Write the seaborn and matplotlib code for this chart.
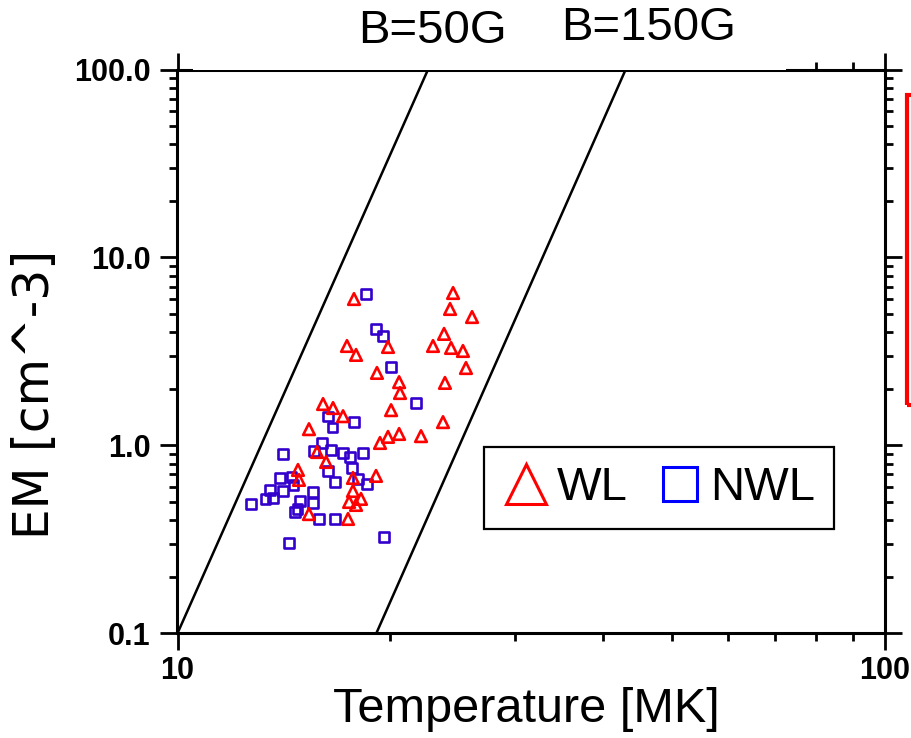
import matplotlib
matplotlib.use("Agg")
import matplotlib.pyplot as plt
import seaborn as sns
from matplotlib.lines import Line2D
from matplotlib.patches import Rectangle
from matplotlib.ticker import FixedLocator, LogLocator, NullFormatter

# ---------------- data ----------------
series_names = ["WL", "NWL"]

wl_T = [17.76, 17.36, 17.88, 16.06, 16.59, 17.14, 24.52, 24.28, 26.08, 23.81,
        22.97, 24.36, 25.32, 19.84, 19.14, 25.57, 20.57, 20.63, 23.88, 20.04,
        23.73, 22.09, 20.57, 19.84, 19.33, 15.34, 15.75, 16.22, 14.80, 14.85,
        17.70, 19.08, 17.70, 17.48, 18.17, 17.88, 15.34, 17.42]
wl_EM = [6.01, 3.38, 3.03, 1.66, 1.58, 1.43, 6.47, 5.32, 4.82, 3.92,
         3.38, 3.30, 3.18, 3.34, 2.43, 2.58, 2.17, 1.90, 2.15, 1.54,
         1.33, 1.12, 1.15, 1.11, 1.03, 1.22, 0.922, 0.816, 0.740, 0.655,
         0.671, 0.688, 0.572, 0.500, 0.519, 0.482, 0.431, 0.406]

nwl_T = [18.47, 19.08, 19.52, 20.04, 21.73, 16.54, 16.32, 17.76, 14.10, 16.00,
         15.59, 16.48, 17.14, 17.53, 18.29, 17.65, 16.32, 13.96, 14.51, 14.57,
         17.99, 18.53, 16.70, 13.51, 14.10, 13.30, 13.65, 12.70, 15.54, 15.54,
         14.90, 14.76, 14.66, 15.85, 16.70, 14.37, 19.58]
nwl_EM = [6.39, 4.16, 3.82, 2.61, 1.68, 1.24, 1.42, 1.33, 0.900, 1.03,
          0.934, 0.945, 0.911, 0.868, 0.911, 0.758, 0.731, 0.671, 0.679, 0.615,
          0.663, 0.623, 0.639, 0.579, 0.572, 0.519, 0.525, 0.488, 0.565, 0.494,
          0.506, 0.459, 0.442, 0.406, 0.406, 0.302, 0.325]

b50_T = [10.0, 22.6]
b150_T = [19.1, 43.0]
b_EM = [0.1, 100.0]
b_labels = ["B=50G", "B=150G"]

x_ticks = [10, 100]
x_tick_labels = ["10", "100"]
y_ticks = [0.1, 1, 10, 100]
y_tick_labels = ["0.1", "1.0", "10.0", "100.0"]

# ---------------- figure ----------------
plt.rcParams['font.family'] = ['Liberation Sans', 'DejaVu Sans']
W, H = 912, 738
fig = plt.figure(figsize=(W / 100, H / 100), dpi=100)
fig.patch.set_facecolor('white')
ax = fig.add_axes([177.5 / W, 1 - 633.3 / H, (885 - 177.5) / W, (633.3 - 69.5) / H])
ax.set_facecolor('white')
ax.set_xscale('log')
ax.set_yscale('log')

sns.lineplot(x=b50_T, y=b_EM, ax=ax, color='black', linewidth=1.8, sort=False, zorder=2)
sns.lineplot(x=b150_T, y=b_EM, ax=ax, color='black', linewidth=1.8, sort=False, zorder=2)

sns.scatterplot(x=nwl_T, y=nwl_EM, ax=ax, marker='s', s=44, facecolor='none',
                edgecolor='#3300cc', linewidth=1.9, zorder=3)
sns.scatterplot(x=wl_T, y=wl_EM, ax=ax, marker='^', s=70, facecolor='none',
                edgecolor='#ff0000', linewidth=1.9, zorder=4)

ax.set_xlim(10, 100)
ax.set_ylim(0.1, 100)

ax.xaxis.set_major_locator(FixedLocator(x_ticks))
ax.set_xticklabels(x_tick_labels, fontweight='bold')
ax.yaxis.set_major_locator(FixedLocator(y_ticks))
ax.set_yticklabels(y_tick_labels, fontweight='bold')
ax.xaxis.set_minor_locator(LogLocator(base=10, subs=range(2, 10)))
ax.yaxis.set_minor_locator(LogLocator(base=10, subs=range(2, 10)))
ax.xaxis.set_minor_formatter(NullFormatter())
ax.yaxis.set_minor_formatter(NullFormatter())

ax.tick_params(which='both', direction='out', top=True, right=True,
               width=2.0, color='black', labelcolor='black', labelsize=22)
ax.tick_params(which='major', length=12.5)
ax.tick_params(which='minor', length=6)
ax.tick_params(axis='y', which='major', pad=7)
ax.tick_params(axis='x', which='major', pad=4)

for sp in ax.spines.values():
    sp.set_linewidth(2.2)
    sp.set_color('black')

ax.set_xlabel('Temperature [MK]', fontsize=35, color='black', labelpad=1)
ax.xaxis.set_label_coords(0.493, -0.095)
ax.set_ylabel('EM [cm^-3]', fontsize=35, color='black', family=['DejaVu Sans'])
ax.yaxis.set_label_coords(-0.168, 0.423)

handles = [
    Line2D([], [], ls='none', marker='^', ms=29, mfc='none', mec='#ff0000', mew=2.2),
    Line2D([], [], ls='none', marker='s', ms=24, mfc='none', mec='#0000ff', mew=2.2),
]
leg = ax.legend(handles, series_names, loc='upper left', bbox_to_anchor=(0.433, 0.330),
                ncol=2, fontsize=34, frameon=True, fancybox=False, edgecolor='black',
                framealpha=1, borderpad=0.4, handlelength=1.0, handletextpad=0.15,
                columnspacing=0.6, borderaxespad=0)
leg.get_frame().set_linewidth(1.6)

# white cover behind the top labels (hides part of the top axis)
fig.patches.append(Rectangle((193 / W, 1 - 69.5 / H), (786 - 193) / W, 69.5 / H,
                             transform=fig.transFigure, facecolor='white',
                             edgecolor='none', zorder=5))
fig.text(432 / W, 1 - 31 / H, b_labels[0], ha='center', va='center', fontsize=34,
         color='black', zorder=6)
fig.text(649 / W, 1 - 28 / H, b_labels[1], ha='center', va='center', fontsize=34,
         color='black', zorder=6)

# red bracket at the right edge
fig.patches.append(Rectangle((907 / W, 1 - 405 / H), 40 / W, 310 / H,
                             transform=fig.transFigure, facecolor='none',
                             edgecolor='#ff0000', linewidth=3, zorder=6))

fig.savefig('out.png', dpi=100, facecolor='white')
